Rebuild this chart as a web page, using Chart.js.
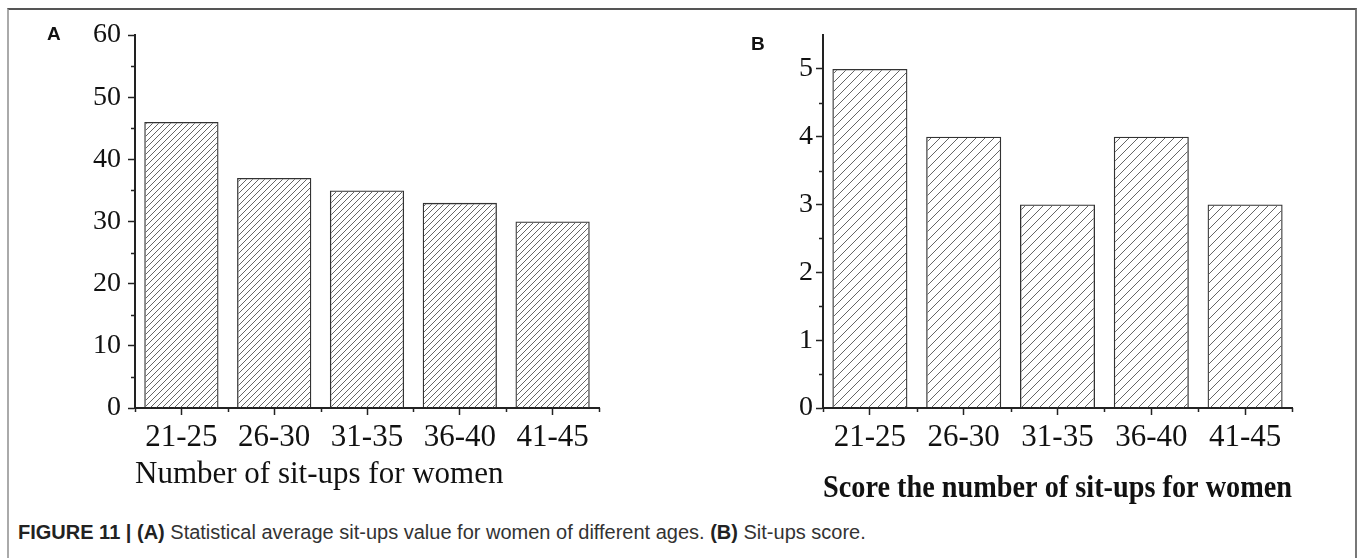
<!DOCTYPE html>
<html>
<head>
<meta charset="utf-8">
<script src="https://cdn.jsdelivr.net/npm/chart.js@4.4.1/dist/chart.umd.min.js"></script>
<style>
  body { margin: 0; background: #fff; width: 1357px; height: 558px; overflow: hidden; position: relative; }
  #frame { position: absolute; left: 7px; top: 8px; width: 1346px; height: 600px;
           border-top: 2px solid #555; border-left: 2px solid #aaa; border-right: 2px solid #777; }
  canvas { position: absolute; }
  #chartA { left: 0; top: 0; }
  #chartB { left: 700px; top: 0; }
  .panel { position: absolute; font: bold 19px "Liberation Sans", Arial, sans-serif; color: #111; }
  #caption { position: absolute; left: 18px; top: 521px; font: 20px "Liberation Sans", Arial, sans-serif;
             color: #333; white-space: nowrap; }
  #caption b { color: #222; }
</style>
</head>
<body>
<div id="frame"></div>
<canvas id="chartA" width="620" height="520"></canvas>
<canvas id="chartB" width="620" height="520"></canvas>
<div class="panel" style="left:47px; top:23px;">A</div>
<div class="panel" style="left:751px; top:33px;">B</div>
<div id="caption"><b>FIGURE 11 | (A)</b> Statistical average sit-ups value for women of different ages. <b>(B)</b> Sit-ups score.</div>
<script>
// data
const ageGroups = ["21-25", "26-30", "31-35", "36-40", "41-45"];
const avgSitUps = [46, 37, 35, 33, 30];
const sitUpScores = [5, 4, 3, 4, 3];
const yTicksA = [0, 10, 20, 30, 40, 50, 60];
const yMinorA = [5, 15, 25, 35, 45, 55];
const yTicksB = [0, 1, 2, 3, 4, 5];
const yMinorB = [0.5, 1.5, 2.5, 3.5, 4.5];

const serif = "'Liberation Serif', 'Times New Roman', serif";
const ink = "#222";

// diagonal hatch fill like the original
function hatch(ctx, step) {
    const c = document.createElement("canvas");
    c.width = c.height = step;
    const g = c.getContext("2d");
    g.strokeStyle = "#666";
    g.lineWidth = 1;
    g.beginPath();
    g.moveTo(0, step); g.lineTo(step, 0);
    g.moveTo(-1, 1); g.lineTo(1, -1);
    g.moveTo(step - 1, step + 1); g.lineTo(step + 1, step - 1);
    g.stroke();
    return ctx.createPattern(c, "repeat");
}

// small ticks: half steps on y, category edges on x
const minorTicks = {
    id: "minorTicks",
    afterDraw(chart, args, opts) {
        const { ctx } = chart;
        const x = chart.scales.x, y = chart.scales.y;
        ctx.save();
        ctx.strokeStyle = ink;
        ctx.lineWidth = 1.5;
        ctx.beginPath();
        opts.yValues.forEach((v) => {
            const py = Math.round(y.getPixelForValue(v)) + 0.5;
            ctx.moveTo(y.right, py);
            ctx.lineTo(y.right - opts.len, py);
        });
        for (let i = 0; i <= chart.data.labels.length; i++) {
            const px = Math.round(x.getPixelForValue(i - 0.5)) + 0.5;
            ctx.moveTo(px, x.top);
            ctx.lineTo(px, x.top + opts.len);
        }
        ctx.stroke();
        ctx.restore();
    },
};

function makeChart(id, values, yMax, majors, minors, hatchStep, title, cfg) {
    const ctx = document.getElementById(id).getContext("2d");
    return new Chart(ctx, {
        type: "bar",
        data: {
            labels: ageGroups,
            datasets: [{
                data: values,
                backgroundColor: hatch(ctx, hatchStep),
                borderColor: "#333",
                borderWidth: 1.3,
                barPercentage: 0.8,
                categoryPercentage: 1,
            }],
        },
        plugins: [minorTicks],
        options: {
            responsive: false,
            animation: false,
            devicePixelRatio: 1,
            layout: { padding: { top: 35, right: cfg.padRight, left: 0, bottom: 0 } },
            plugins: {
                legend: { display: false },
                tooltip: { enabled: false },
                minorTicks: { yValues: minors, len: 4 },
            },
            scales: {
                x: {
                    offset: true,
                    afterFit: (s) => { s.height = 520 - 408; },
                    grid: { drawOnChartArea: false, offset: false, tickLength: 7, tickColor: ink, tickWidth: 1.5 },
                    border: { display: true, color: ink, width: 2 },
                    ticks: { font: { family: serif, size: 31 }, color: "#111", padding: 4, maxRotation: 0, autoSkip: false },
                    title: {
                        display: true,
                        text: title,
                        align: cfg.titleAlign,
                        color: "#111",
                        font: { family: serif, size: 31, weight: cfg.titleWeight },
                        padding: { top: 0, bottom: cfg.titlePad },
                    },
                },
                y: {
                    min: 0,
                    max: yMax,
                    afterBuildTicks: (s) => { s.ticks = majors.map((v) => ({ value: v })); },
                    afterFit: (s) => { s.width = cfg.yWidth; },
                    grid: { drawOnChartArea: false, tickLength: 7, tickColor: ink, tickWidth: 1.5 },
                    border: { display: true, color: ink, width: 2 },
                    ticks: { font: { family: serif, size: 28 }, color: "#111", padding: cfg.yPad },
                },
            },
        },
    });
}

makeChart("chartA", avgSitUps, 60, yTicksA, yMinorA, 6, "Number of sit-ups for women",
    { padRight: 21, yWidth: 135, yPad: 7, titleAlign: "start", titleWeight: "normal", titlePad: 27 });
makeChart("chartB", sitUpScores, 5.5, yTicksB, yMinorB, 9, "Score the number of sit-ups for women",
    { padRight: 28, yWidth: 123, yPad: 3, titleAlign: "center", titleWeight: "bold", titlePad: 12 });
</script>
</body>
</html>
